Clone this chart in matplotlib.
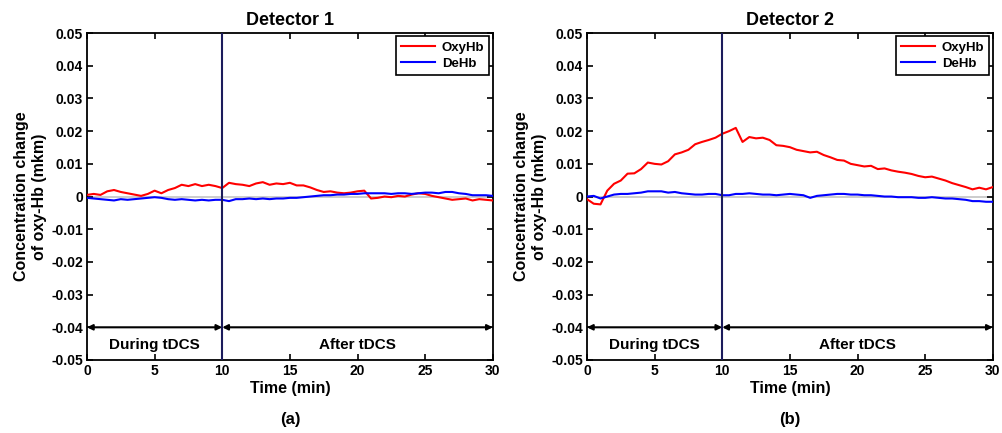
import matplotlib
matplotlib.use("Agg")
import matplotlib.pyplot as plt

plt.rcParams['font.family'] = ['Liberation Sans', 'DejaVu Sans']
plt.rcParams['font.weight'] = 'bold'

# time axis, minutes (every 0.5 min)
time = [i / 2 for i in range(0, 61)]

# Detector 1
d1_oxy = [0.0005, 0.0008, 0.0005, 0.0016, 0.0020, 0.0014, 0.0010, 0.0006, 0.0002, 0.0008,
          0.0018, 0.0010, 0.0020, 0.0026, 0.0036, 0.0032, 0.0038, 0.0032, 0.0036, 0.0032,
          0.0026, 0.0042, 0.0038, 0.0036, 0.0032, 0.0040, 0.0044, 0.0036, 0.0040, 0.0038,
          0.0042, 0.0034, 0.0034, 0.0028, 0.0020, 0.0014, 0.0016, 0.0012, 0.0010, 0.0012,
          0.0016, 0.0018, -0.0006, -0.0004, 0.0000, -0.0002, 0.0002, 0.0000, 0.0006, 0.0010,
          0.0008, 0.0002, -0.0002, -0.0006, -0.0010, -0.0008, -0.0006, -0.0012, -0.0008, -0.0010,
          -0.0012]
d1_de = [-0.0004, -0.0006, -0.0008, -0.0010, -0.0012, -0.0008, -0.0010, -0.0008, -0.0006, -0.0004,
         -0.0002, -0.0004, -0.0008, -0.0010, -0.0008, -0.0010, -0.0012, -0.0010, -0.0012, -0.0010,
         -0.0010, -0.0014, -0.0008, -0.0008, -0.0006, -0.0008, -0.0006, -0.0008, -0.0006, -0.0006,
         -0.0004, -0.0004, -0.0002, 0.0000, 0.0002, 0.0004, 0.0004, 0.0006, 0.0006, 0.0008,
         0.0008, 0.0010, 0.0010, 0.0010, 0.0010, 0.0008, 0.0010, 0.0010, 0.0008, 0.0010,
         0.0012, 0.0012, 0.0010, 0.0014, 0.0014, 0.0010, 0.0008, 0.0004, 0.0004, 0.0004,
         0.0002]

# Detector 2
d2_oxy = [-0.0008, -0.0022, -0.0024, 0.0018, 0.0039, 0.0049, 0.0070, 0.0071, 0.0084, 0.0104,
          0.0100, 0.0098, 0.0108, 0.0129, 0.0135, 0.0143, 0.0160, 0.0167, 0.0173, 0.0180,
          0.0192, 0.0200, 0.0210, 0.0167, 0.0182, 0.0178, 0.0180, 0.0173, 0.0157, 0.0155,
          0.0151, 0.0143, 0.0139, 0.0135, 0.0137, 0.0127, 0.0120, 0.0112, 0.0110, 0.0100,
          0.0096, 0.0092, 0.0094, 0.0084, 0.0086, 0.0080, 0.0076, 0.0073, 0.0069, 0.0063,
          0.0059, 0.0061, 0.0055, 0.0049, 0.0041, 0.0035, 0.0029, 0.0022, 0.0027, 0.0022,
          0.0029]
d2_de = [0.0000, 0.0002, -0.0006, 0.0000, 0.0006, 0.0008, 0.0008, 0.0010, 0.0012, 0.0016,
         0.0016, 0.0016, 0.0012, 0.0014, 0.0010, 0.0008, 0.0006, 0.0006, 0.0008, 0.0008,
         0.0004, 0.0004, 0.0008, 0.0008, 0.0010, 0.0008, 0.0006, 0.0006, 0.0004, 0.0006,
         0.0008, 0.0006, 0.0004, -0.0004, 0.0002, 0.0004, 0.0006, 0.0008, 0.0008, 0.0006,
         0.0006, 0.0004, 0.0004, 0.0002, 0.0000, 0.0000, -0.0002, -0.0002, -0.0002, -0.0004,
         -0.0004, -0.0002, -0.0004, -0.0006, -0.0006, -0.0008, -0.0010, -0.0014, -0.0014, -0.0016,
         -0.0016]

titles = ["Detector 1", "Detector 2"]
panel_tags = ["(a)", "(b)"]
yticks = [-0.05, -0.04, -0.03, -0.02, -0.01, 0, 0.01, 0.02, 0.03, 0.04, 0.05]
ytick_labels = ["-0.05", "-0.04", "-0.03", "-0.02", "-0.01", "0", "0.01", "0.02", "0.03", "0.04", "0.05"]
xticks = [0, 5, 10, 15, 20, 25, 30]


def draw_panel(ax, oxy, de, title, tag):
    ax.axhline(0, color='#c8c8c8', lw=1.3, zorder=1)
    ax.plot(time, oxy, color='#ff0000', lw=1.5, label="OxyHb", zorder=3)
    ax.plot(time, de, color='#0000ff', lw=1.5, label="DeHb", zorder=3)
    ax.axvline(10, color='#1c1c5c', lw=1.5, zorder=4)

    # phase arrows
    for a, b in [(0, 10), (10, 30)]:
        ax.annotate("", xy=(a, -0.04), xytext=(b, -0.04),
                    arrowprops=dict(arrowstyle='<|-|>', color='black', lw=1.5,
                                    shrinkA=0, shrinkB=0, mutation_scale=8))
    ax.text(5, -0.0455, "During tDCS", ha='center', va='center', fontsize=11, fontweight='bold')
    ax.text(20, -0.0455, "After tDCS", ha='center', va='center', fontsize=11, fontweight='bold')

    ax.set_xlim(0, 30)
    ax.set_ylim(-0.05, 0.05)
    ax.set_xticks(xticks)
    ax.set_yticks(yticks)
    ax.set_yticklabels(ytick_labels)
    ax.tick_params(direction='in', top=True, right=True, length=4, width=1.2,
                   labelsize=10, pad=3)
    for lab in ax.get_xticklabels() + ax.get_yticklabels():
        lab.set_fontweight('bold')
    for sp in ax.spines.values():
        sp.set_linewidth(1.3)

    ax.set_title(title, fontsize=13, fontweight='bold', pad=6)
    ax.set_xlabel("Time (min)", fontsize=11.5, fontweight='bold', labelpad=2)
    ax.set_ylabel("Concentration change\nof oxy-Hb (mkm)", fontsize=11.5, fontweight='bold',
                  labelpad=3, linespacing=1.2)

    leg = ax.legend(loc='upper right', fancybox=False, edgecolor='black', framealpha=1,
                    fontsize=9.5, borderaxespad=0.25, handlelength=2.6, borderpad=0.4,
                    labelspacing=0.3, handletextpad=0.5)
    leg.get_frame().set_linewidth(1.2)
    ax.text(0.5, -0.183, tag, transform=ax.transAxes, ha='center', va='center',
            fontsize=12, fontweight='bold')


fig = plt.figure(figsize=(10.02, 4.33), dpi=100)
ax1 = fig.add_axes([0.0868, 0.1686, 0.405, 0.755])
ax2 = fig.add_axes([0.5858, 0.1686, 0.405, 0.755])

draw_panel(ax1, d1_oxy, d1_de, titles[0], panel_tags[0])
draw_panel(ax2, d2_oxy, d2_de, titles[1], panel_tags[1])

fig.savefig("out.png", dpi=100)
